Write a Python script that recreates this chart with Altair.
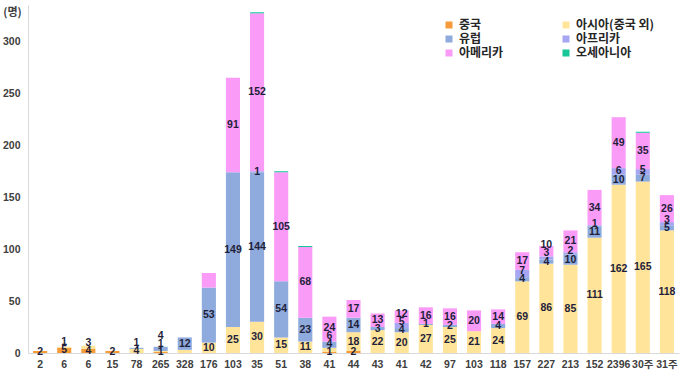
import altair as alt
import pandas as pd

labels = ["2", "6", "6", "15", "78", "265", "328", "176", "103", "35", "51", "38", "41", "44",
          "43", "41", "42", "97", "103", "118", "157", "227", "213", "152", "2396", "30주", "31주"]

series = ["중국", "아시아(중국 외)", "유럽", "아프리카", "아메리카", "오세아니아"]
colors = ["#F79B38", "#FFE49A", "#8FAADC", "#A6A6F2", "#FA9CF7", "#16C79A"]

china   = [2, 5, 4, 2, 0, 1, 0, 0, 0, 0, 0, 0, 1, 2, 0, 0, 0, 0, 0, 0, 0, 0, 0, 0, 0, 0, 0]
asia    = [0, 1, 3, 0, 4, 1, 3, 10, 25, 30, 15, 11, 4, 18, 22, 20, 27, 25, 21, 24, 69, 86, 85, 111, 162, 165, 118]
europe  = [0, 0, 0, 0, 1, 4, 12, 53, 149, 144, 54, 23, 6, 14, 3, 4, 1, 2, 0, 4, 4, 4, 10, 11, 10, 7, 5]
africa  = [0, 0, 0, 0, 0, 0, 0, 0, 0, 1, 0, 0, 0, 0, 0, 5, 0, 0, 0, 0, 7, 3, 2, 1, 6, 5, 3]
america = [0, 0, 0, 0, 0, 0, 0, 14, 91, 152, 105, 68, 24, 17, 13, 12, 16, 16, 20, 14, 17, 10, 21, 34, 49, 35, 26]
oceania = [0, 0, 0, 0, 0, 0, 0, 0, 0, 1, 1, 1, 0, 0, 0, 0, 0, 0, 0, 0, 0, 0, 0, 0, 0, 1, 0]

# segments whose value is not printed in the reference (category index, series)
hidden_labels = [(6, "아시아(중국 외)"), (7, "아메리카")]

rows = []
for s_i, (name, vals) in enumerate(zip(series, [china, asia, europe, africa, america, oceania])):
    for i, v in enumerate(vals):
        show = v > 0 and name != "오세아니아" and (i, name) not in hidden_labels
        rows.append({"idx": i, "series": name, "ord": s_i, "value": v, "show": show})
df = pd.DataFrame(rows)

label_expr = "[" + ",".join("'" + l + "'" for l in labels) + "][datum.value]"

font = "Liberation Sans, Noto Sans CJK KR"
kfont = "Noto Sans CJK KR"

x_enc = alt.X(
    "idx:O",
    title=None,
    scale=alt.Scale(paddingInner=0.415, paddingOuter=0.21),
    axis=alt.Axis(labelExpr=label_expr, labelAngle=0, ticks=False, domainColor="#D9D9D9",
                  labelFontWeight="bold", labelFontSize=10.5, labelColor="#404040",
                  labelPadding=6, labelFont=font),
)

y_axis = alt.Axis(values=[0, 50, 100, 150, 200, 250, 300], grid=False, ticks=False,
                  domainColor="#D9D9D9", labelFontWeight="bold", labelFontSize=10.5,
                  labelColor="#404040", labelPadding=8, labelFont=font,
                  title="(명)", titleAngle=0, titleAlign="center", titleBaseline="middle",
                  titleX=-16, titleY=7, titleFontSize=11, titleFontWeight="bold",
                  titleColor="#404040", titleFont=kfont)
y_scale = alt.Scale(domain=[0, 335], nice=False)

base = alt.Chart(df).transform_stack(
    stack="value", groupby=["idx"], as_=["y0", "y1"], sort=[alt.SortField("ord", order="ascending")]
).transform_calculate(mid="(datum.y0 + datum.y1) / 2")

legend_order = ["중국", "유럽", "아메리카", "아시아(중국 외)", "아프리카", "오세아니아"]

bars = base.mark_bar().encode(
    x=x_enc,
    y=alt.Y("y0:Q", scale=y_scale, axis=y_axis),
    y2="y1:Q",
    color=alt.Color("series:N", scale=alt.Scale(domain=series, range=colors),
                    legend=alt.Legend(orient="none", legendX=415, legendY=14, columns=2, title=None,
                                      values=legend_order,
                                      symbolType="square", symbolSize=49, symbolStrokeWidth=0,
                                      labelFontSize=12, labelFontWeight="bold", labelColor="#262626",
                                      labelFont=kfont, columnPadding=56, rowPadding=2)),
)

# keep small neighbouring labels from colliding: each label sits at least LH units above the previous one
LH = 8
texts = base.transform_filter("datum.show").transform_window(
    r="row_number()", groupby=["idx"], sort=[alt.SortField("ord", order="ascending")]
).transform_calculate(
    a="datum.mid - datum.r * %d" % LH
).transform_window(
    cm="max(a)", groupby=["idx"], sort=[alt.SortField("ord", order="ascending")], frame=[None, 0]
).transform_calculate(
    ly="datum.cm + datum.r * %d" % LH
).mark_text(
    fontWeight="bold", fontSize=10.5, color="#1F1F3A", baseline="middle", font=font
).encode(
    x=x_enc,
    y=alt.Y("ly:Q", scale=y_scale, axis=y_axis),
    text="value:Q",
)

chart = alt.layer(bars, texts).properties(
    width=651, height=348,
    autosize=alt.AutoSizeParams(type="none"),
    padding={"left": 28, "top": 5, "right": 1, "bottom": 25},
).configure_view(stroke=None)

chart.save("out.html", embed_options={"renderer": "svg", "actions": False})
